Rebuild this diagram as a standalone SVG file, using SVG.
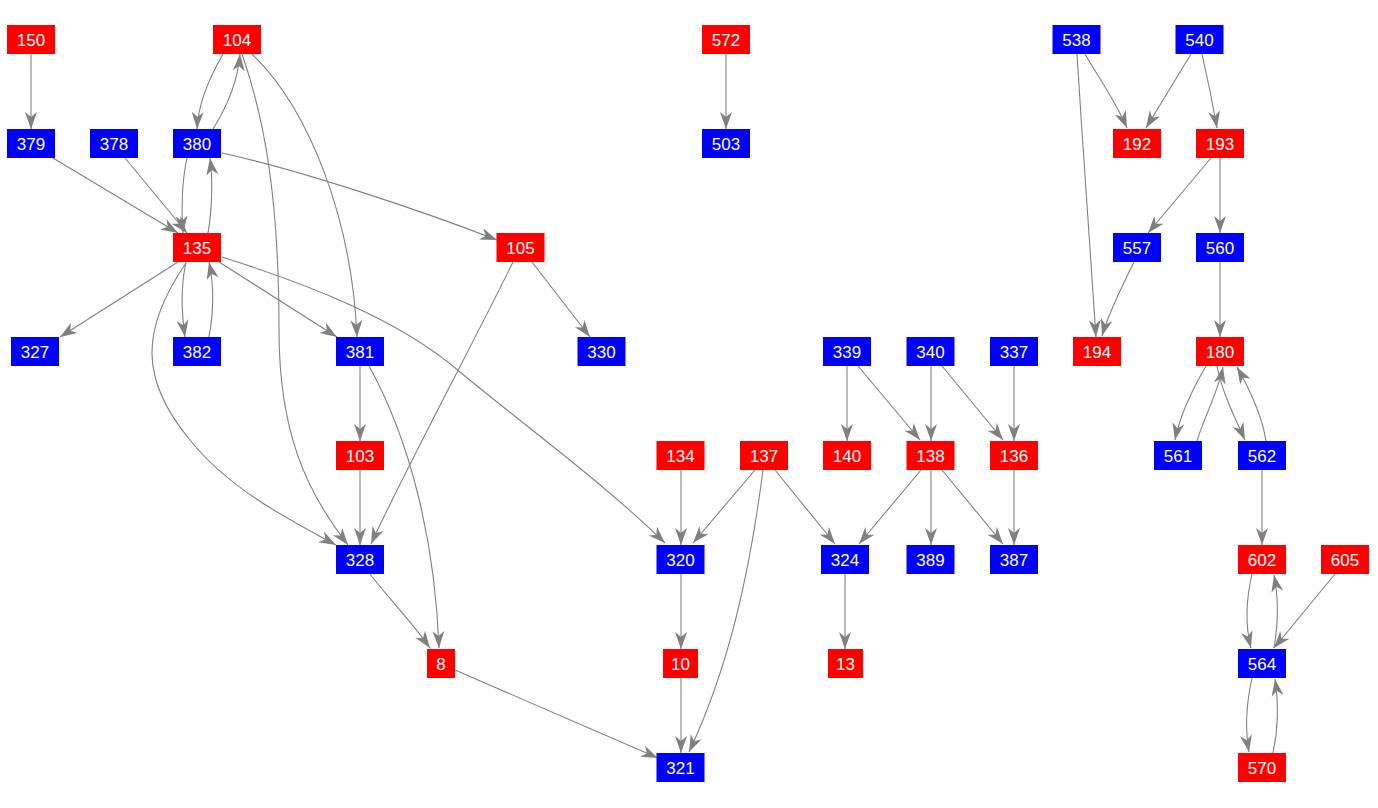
<svg xmlns="http://www.w3.org/2000/svg" width="1378" height="808" viewBox="0 0 1378 808">
<style>
.r{fill:#ff0000}
.b{fill:#0000ff}
text{fill:#ffffff;font-family:"Liberation Sans",Arial,sans-serif;font-size:17px;text-anchor:middle}
.e path{fill:none;stroke:#808080;stroke-width:1.1;marker-end:url(#a)}
</style>
<defs>
<marker id="a" markerUnits="userSpaceOnUse" markerWidth="18" markerHeight="14" viewBox="0 0 18 14" refX="17" refY="7" orient="auto">
<path d="M0,1 L17,7 L0,13 L5,7 z" fill="#808080"/>
</marker>
</defs>
<rect width="1378" height="808" fill="#ffffff"/>
<g class="e" id="edges">
<path d="M31,54 L31,129"/>
<path d="M223,54 C208,80 198,105 197,129"/>
<path d="M213,129 C228,105 238,80 240,54"/>
<path d="M187,158 C182,180 181,210 183,233"/>
<path d="M208,233 C212,210 213,180 210,158"/>
<path d="M53,158 L178,233"/>
<path d="M125,158 L187,233"/>
<path d="M242,54 C265,120 279,200 279,330 C279,430 305,490 348,545"/>
<path d="M252,54 C310,110 352,220 357,337"/>
<path d="M222,153 C300,170 420,210 497,240"/>
<path d="M178,262 L60,337"/>
<path d="M186,262 C181,285 181,310 185,337"/>
<path d="M209,337 C214,310 214,285 209,262"/>
<path d="M219,262 L337,337"/>
<path d="M186,263 C140,330 140,380 190,440 C230,490 290,520 336,545"/>
<path d="M222,257 C310,285 400,320 460,372 C530,430 600,480 665,543"/>
<path d="M532,262 L590,337"/>
<path d="M513,262 C480,330 400,480 371,544"/>
<path d="M360,366 L360,441"/>
<path d="M369,366 C410,440 435,540 439,648"/>
<path d="M360,470 L360,545"/>
<path d="M370,574 C390,600 410,620 430,648"/>
<path d="M455,670 L658,758"/>
<path d="M681,470 L681,545"/>
<path d="M755,470 L693,543"/>
<path d="M763,470 C750,570 730,665 689,752"/>
<path d="M775,470 L835,544"/>
<path d="M681,574 L681,649"/>
<path d="M681,678 L681,753"/>
<path d="M845,574 L845,649"/>
<path d="M847,366 L847,441"/>
<path d="M858,366 L920,440"/>
<path d="M931,366 L931,441"/>
<path d="M942,366 L1003,440"/>
<path d="M1014,366 L1014,441"/>
<path d="M921,470 L859,544"/>
<path d="M931,470 L931,545"/>
<path d="M942,470 L1003,544"/>
<path d="M1014,470 L1014,545"/>
<path d="M726,54 L726,129"/>
<path d="M1085,54 C1100,80 1115,100 1127,128"/>
<path d="M1191,54 L1146,128"/>
<path d="M1202,54 C1208,80 1213,105 1217,128"/>
<path d="M1077,54 C1083,150 1090,250 1096,337"/>
<path d="M1134,262 C1120,290 1108,315 1102,336"/>
<path d="M1211,158 L1148,233"/>
<path d="M1220,158 L1220,233"/>
<path d="M1220,262 L1220,337"/>
<path d="M1206,366 C1192,390 1180,415 1175,440"/>
<path d="M1197,441 C1205,415 1218,392 1223,367"/>
<path d="M1217,366 C1222,392 1235,418 1245,440"/>
<path d="M1266,441 C1262,415 1250,390 1237,367"/>
<path d="M1262,470 L1262,545"/>
<path d="M1252,574 C1246,600 1245,625 1251,648"/>
<path d="M1274,648 C1278,625 1279,600 1274,575"/>
<path d="M1335,574 L1274,648"/>
<path d="M1252,678 C1246,705 1245,730 1249,752"/>
<path d="M1273,753 C1278,730 1279,705 1275,679"/>
</g>
<g id="n150"><rect class="r" x="7" y="25" width="48" height="29"/><text x="31" y="45.5">150</text></g>
<g id="n104"><rect class="r" x="213" y="25" width="48" height="29"/><text x="237" y="45.5">104</text></g>
<g id="n572"><rect class="r" x="702" y="25" width="48" height="29"/><text x="726" y="45.5">572</text></g>
<g id="n538"><rect class="b" x="1052.5" y="25" width="48" height="29"/><text x="1076.5" y="45.5">538</text></g>
<g id="n540"><rect class="b" x="1175.5" y="25" width="48" height="29"/><text x="1199.5" y="45.5">540</text></g>
<g id="n379"><rect class="b" x="7" y="129" width="48" height="29"/><text x="31" y="149.5">379</text></g>
<g id="n378"><rect class="b" x="90" y="129" width="48" height="29"/><text x="114" y="149.5">378</text></g>
<g id="n380"><rect class="b" x="173" y="129" width="48" height="29"/><text x="197" y="149.5">380</text></g>
<g id="n503"><rect class="b" x="702" y="129" width="48" height="29"/><text x="726" y="149.5">503</text></g>
<g id="n192"><rect class="r" x="1113" y="129" width="48" height="29"/><text x="1137" y="149.5">192</text></g>
<g id="n193"><rect class="r" x="1196" y="129" width="48" height="29"/><text x="1220" y="149.5">193</text></g>
<g id="n135"><rect class="r" x="173" y="233" width="48" height="29"/><text x="197" y="253.5">135</text></g>
<g id="n105"><rect class="r" x="496.5" y="233" width="48" height="29"/><text x="520.5" y="253.5">105</text></g>
<g id="n557"><rect class="b" x="1113" y="233" width="48" height="29"/><text x="1137" y="253.5">557</text></g>
<g id="n560"><rect class="b" x="1196" y="233" width="48" height="29"/><text x="1220" y="253.5">560</text></g>
<g id="n327"><rect class="b" x="11" y="337" width="48" height="29"/><text x="35" y="357.5">327</text></g>
<g id="n382"><rect class="b" x="173" y="337" width="48" height="29"/><text x="197" y="357.5">382</text></g>
<g id="n381"><rect class="b" x="336" y="337" width="48" height="29"/><text x="360" y="357.5">381</text></g>
<g id="n330"><rect class="b" x="577.5" y="337" width="48" height="29"/><text x="601.5" y="357.5">330</text></g>
<g id="n339"><rect class="b" x="823" y="337" width="48" height="29"/><text x="847" y="357.5">339</text></g>
<g id="n340"><rect class="b" x="906.5" y="337" width="48" height="29"/><text x="930.5" y="357.5">340</text></g>
<g id="n337"><rect class="b" x="990" y="337" width="48" height="29"/><text x="1014" y="357.5">337</text></g>
<g id="n194"><rect class="r" x="1073" y="337" width="48" height="29"/><text x="1097" y="357.5">194</text></g>
<g id="n180"><rect class="r" x="1196" y="337" width="48" height="29"/><text x="1220" y="357.5">180</text></g>
<g id="n103"><rect class="r" x="336" y="441" width="48" height="29"/><text x="360" y="461.5">103</text></g>
<g id="n134"><rect class="r" x="656.5" y="441" width="48" height="29"/><text x="680.5" y="461.5">134</text></g>
<g id="n137"><rect class="r" x="740" y="441" width="48" height="29"/><text x="764" y="461.5">137</text></g>
<g id="n140"><rect class="r" x="823" y="441" width="48" height="29"/><text x="847" y="461.5">140</text></g>
<g id="n138"><rect class="r" x="906.5" y="441" width="48" height="29"/><text x="930.5" y="461.5">138</text></g>
<g id="n136"><rect class="r" x="990" y="441" width="48" height="29"/><text x="1014" y="461.5">136</text></g>
<g id="n561"><rect class="b" x="1154" y="441" width="48" height="29"/><text x="1178" y="461.5">561</text></g>
<g id="n562"><rect class="b" x="1238" y="441" width="48" height="29"/><text x="1262" y="461.5">562</text></g>
<g id="n328"><rect class="b" x="336" y="545" width="48" height="29"/><text x="360" y="565.5">328</text></g>
<g id="n320"><rect class="b" x="656.5" y="545" width="48" height="29"/><text x="680.5" y="565.5">320</text></g>
<g id="n324"><rect class="b" x="821" y="545" width="48" height="29"/><text x="845" y="565.5">324</text></g>
<g id="n389"><rect class="b" x="906.5" y="545" width="48" height="29"/><text x="930.5" y="565.5">389</text></g>
<g id="n387"><rect class="b" x="990" y="545" width="48" height="29"/><text x="1014" y="565.5">387</text></g>
<g id="n602"><rect class="r" x="1238" y="545" width="48" height="29"/><text x="1262" y="565.5">602</text></g>
<g id="n605"><rect class="r" x="1321" y="545" width="48" height="29"/><text x="1345" y="565.5">605</text></g>
<g id="n8"><rect class="r" x="427" y="649" width="28" height="29"/><text x="441" y="669.5">8</text></g>
<g id="n10"><rect class="r" x="663" y="649" width="35" height="29"/><text x="680.5" y="669.5">10</text></g>
<g id="n13"><rect class="r" x="828" y="649" width="35" height="29"/><text x="845.5" y="669.5">13</text></g>
<g id="n564"><rect class="b" x="1238" y="649" width="48" height="29"/><text x="1262" y="669.5">564</text></g>
<g id="n321"><rect class="b" x="656.5" y="753" width="48" height="29"/><text x="680.5" y="773.5">321</text></g>
<g id="n570"><rect class="r" x="1238" y="753" width="48" height="29"/><text x="1262" y="773.5">570</text></g>
</svg>
